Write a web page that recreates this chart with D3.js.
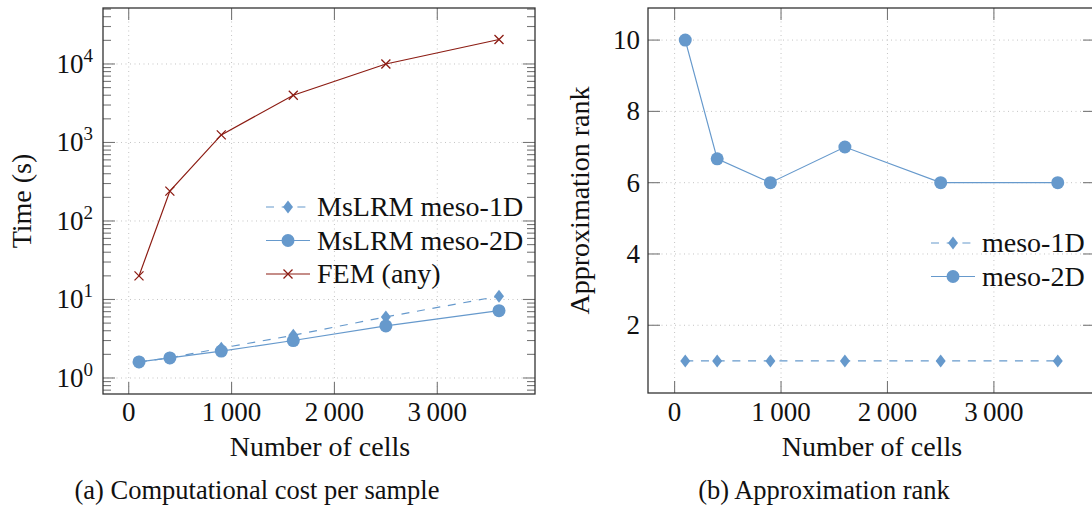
<!DOCTYPE html>
<html>
<head>
<script src="https://cdn.jsdelivr.net/npm/d3@7"></script>
</head>
<body style="margin:0">
<svg id="fig" width="1092" height="509" style="display:block"></svg>
<script>
// ---- data ----
const cells = [100, 400, 900, 1600, 2500, 3600];
const timeMeso1D = [1.6, 1.8, 2.4, 3.5, 6.0, 11.0];
const timeMeso2D = [1.6, 1.8, 2.2, 3.0, 4.6, 7.2];
const timeFEM = [20, 240, 1250, 4000, 10000, 20500];
const rankMeso1D = [1, 1, 1, 1, 1, 1];
const rankMeso2D = [10, 6.67, 6, 7, 6, 6];

const xTicks = [0, 1000, 2000, 3000];
const timeTicks = [1, 10, 100, 1000, 10000];
const rankTicks = [2, 4, 6, 8, 10];

const legendTime = ["MsLRM meso-1D", "MsLRM meso-2D", "FEM (any)"];
const legendRank = ["meso-1D", "meso-2D"];

// ---- styling ----
const BLUE = "#6699cc";
const RED = "#8c1c13";
const AXIS = "#333";
const TICK = "#777";
const GRID = "#c4c4c4";
const FS = 28;      // legend and axis titles
const FS_TICK = 27; // tick labels

const svg = d3.select("#fig");
const fmtThousands = v => v >= 1000 ? Math.floor(v / 1000) + "\u2009" + String(v % 1000).padStart(3, "0") : String(v);

function label(g, size) {
  return g.append("text")
    .attr("font-size", size)
    .attr("fill", "#111")
    .style("font-family", '"Liberation Serif"');
}

function diamondPath(cx, cy) {
  return `M${cx},${cy - 6.5}L${cx + 5},${cy}L${cx},${cy + 6.5}L${cx - 5},${cy}Z`;
}

function drawMarker(g, kind, cx, cy) {
  if (kind === "diamond") {
    g.append("path").attr("d", diamondPath(cx, cy)).attr("fill", BLUE);
  } else if (kind === "circle") {
    g.append("circle").attr("cx", cx).attr("cy", cy).attr("r", 6.5).attr("fill", BLUE);
  } else if (kind === "cross") {
    const s = 4.5;
    g.append("path")
      .attr("d", `M${cx - s},${cy - s}L${cx + s},${cy + s}M${cx - s},${cy + s}L${cx + s},${cy - s}`)
      .attr("stroke", RED).attr("stroke-width", 1.3).attr("fill", "none");
  }
}

function drawSeries(g, x, y, xs, ys, opt) {
  const pts = xs.map((d, i) => [x(d), y(ys[i])]);
  g.append("path")
    .attr("d", d3.line()(pts))
    .attr("fill", "none")
    .attr("stroke", opt.color)
    .attr("stroke-width", 1.2)
    .attr("stroke-dasharray", opt.dash ? "8 7.7" : null);
  pts.forEach(p => drawMarker(g, opt.marker, p[0], p[1]));
}

function drawPanel(cfg) {
  const { x, y, left, right, top, bottom } = cfg;
  const g = svg.append("g");

  // grid
  const grid = g.append("g").attr("stroke", GRID).attr("stroke-width", 1).attr("stroke-dasharray", "1 3.5");
  cfg.xTicks.forEach(t => grid.append("line").attr("x1", x(t)).attr("x2", x(t)).attr("y1", top).attr("y2", bottom));
  cfg.yTicks.forEach(t => grid.append("line").attr("x1", left).attr("x2", right).attr("y1", y(t)).attr("y2", y(t)));

  // series
  cfg.series.forEach(s => drawSeries(g, x, y, cells, s.values, s));

  // ticks (inside, mirrored)
  const ticks = g.append("g").attr("stroke", TICK).attr("stroke-width", 1.1);
  cfg.xTicks.forEach(t => {
    ticks.append("line").attr("x1", x(t)).attr("x2", x(t)).attr("y1", bottom).attr("y2", bottom - 12);
    ticks.append("line").attr("x1", x(t)).attr("x2", x(t)).attr("y1", top).attr("y2", top + 12);
  });
  cfg.yTicks.forEach(t => {
    ticks.append("line").attr("x1", left).attr("x2", left + 12).attr("y1", y(t)).attr("y2", y(t));
    ticks.append("line").attr("x1", right).attr("x2", right - 12).attr("y1", y(t)).attr("y2", y(t));
  });
  (cfg.minorTicks || []).forEach(t => {
    ticks.append("line").attr("x1", left).attr("x2", left + 8).attr("y1", y(t)).attr("y2", y(t));
    ticks.append("line").attr("x1", right).attr("x2", right - 8).attr("y1", y(t)).attr("y2", y(t));
  });

  // frame
  g.append("rect").attr("x", left).attr("y", top).attr("width", right - left).attr("height", bottom - top)
    .attr("fill", "none").attr("stroke", AXIS).attr("stroke-width", 1.3);

  // x tick labels
  cfg.xTicks.forEach(t => {
    label(g, FS_TICK).attr("x", x(t)).attr("y", 421).attr("text-anchor", "middle").text(fmtThousands(t));
  });

  // y tick labels
  cfg.yTicks.forEach(t => {
    const txt = label(g, FS_TICK).attr("x", cfg.yLabelX).attr("y", y(t) + 9).attr("text-anchor", "end");
    if (cfg.log) {
      txt.append("tspan").text("10");
      txt.append("tspan").attr("font-size", 19).attr("dy", -11).text(String(Math.round(Math.log10(t))));
    } else {
      txt.text(String(t));
    }
  });

  // axis titles
  label(g, FS).attr("x", (left + cfg.xTitleRight) / 2).attr("y", 456).attr("text-anchor", "middle")
    .text("Number of cells");
  label(g, FS).attr("transform", `translate(${cfg.yTitleX},${(top + bottom) / 2}) rotate(-90)`)
    .attr("text-anchor", "middle").text(cfg.yTitle);

  // caption
  label(g, 26.5).attr("x", cfg.captionX).attr("y", 499).attr("text-anchor", "middle").text(cfg.caption);

  // legend
  cfg.legend.forEach((name, i) => {
    const s = cfg.series[i];
    const cy = cfg.legendY + i * 33.5;
    g.append("line").attr("x1", cfg.legendX - 51).attr("x2", cfg.legendX - 7).attr("y1", cy).attr("y2", cy)
      .attr("stroke", s.color).attr("stroke-width", 1.2).attr("stroke-dasharray", s.dash ? "8 7.7" : null);
    drawMarker(g, s.marker, cfg.legendX - 29, cy);
    label(g, FS).attr("x", cfg.legendX).attr("y", cy + 9).text(name);
  });
}

// ---- panel (a): time, log scale ----
{
  const left = 103, right = 535, top = 8, bottom = 394;
  const x = d3.scaleLinear().domain([-250, 3950]).range([left, right]);
  const y = d3.scaleLog().domain([Math.pow(10, -0.204), Math.pow(10, 4.713)]).range([bottom, top]);
  const [lo, hi] = y.domain();
  const minor = [];
  for (let e = -1; e <= 4; e++) for (let m = 2; m <= 9; m++) {
    const v = m * Math.pow(10, e);
    if (v > lo && v < hi) minor.push(v);
  }
  drawPanel({
    x, y, left, right, top, bottom, log: true,
    xTicks, yTicks: timeTicks, minorTicks: minor,
    yLabelX: 93, yTitleX: 31, yTitle: "Time (s)", xTitleRight: 537,
    caption: "(a) Computational cost per sample", captionX: 257,
    series: [
      { values: timeMeso1D, color: BLUE, dash: true, marker: "diamond" },
      { values: timeMeso2D, color: BLUE, dash: false, marker: "circle" },
      { values: timeFEM, color: RED, dash: false, marker: "cross" }
    ],
    legend: legendTime, legendX: 317, legendY: 207
  });
}

// ---- panel (b): approximation rank ----
{
  const left = 648, right = 1095, top = 8, bottom = 393;
  const x = d3.scaleLinear().domain([-250, 3950]).range([left, right]);
  const y = d3.scaleLinear().domain([0.1, 10.9]).range([bottom, top]);
  drawPanel({
    x, y, left, right, top, bottom, log: false,
    xTicks, yTicks: rankTicks,
    yLabelX: 640, yTitleX: 589, yTitle: "Approximation rank", xTitleRight: 1096,
    caption: "(b) Approximation rank", captionX: 824,
    series: [
      { values: rankMeso1D, color: BLUE, dash: true, marker: "diamond" },
      { values: rankMeso2D, color: BLUE, dash: false, marker: "circle" }
    ],
    legend: legendRank, legendX: 982, legendY: 243
  });
}
</script>
</body>
</html>
